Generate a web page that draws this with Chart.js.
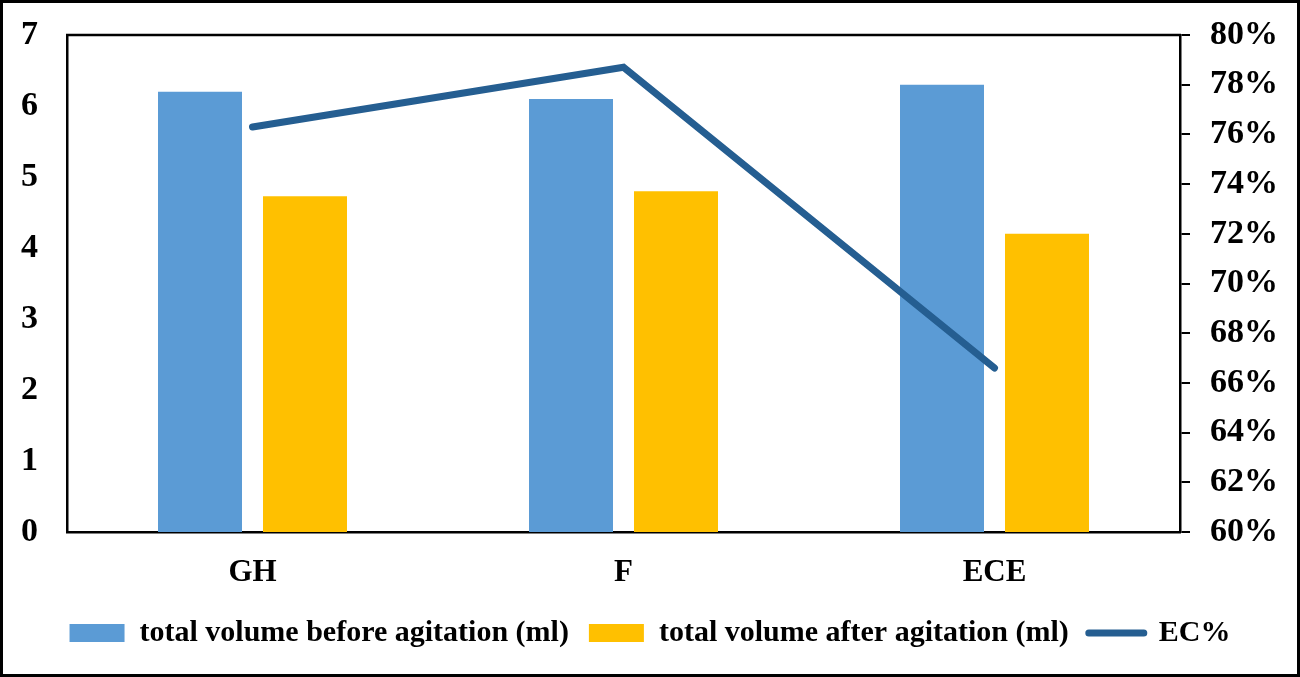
<!DOCTYPE html>
<html>
<head>
<meta charset="utf-8">
<title>Total volume before / after agitation and EC%</title>
<script src="https://cdn.jsdelivr.net/npm/chart.js@4.4.1/dist/chart.umd.min.js"></script>
<style>
    html, body { margin: 0; padding: 0; background: #fff; }
    #wrap { width: 1300px; height: 677px; position: relative; }
</style>
</head>
<body>
<div id="wrap"><canvas id="chart"></canvas></div>
<script>
// Chart data
const categories = ['GH', 'F', 'ECE'];
const volumeBefore = [6.2, 6.1, 6.3];
const volumeAfter = [4.73, 4.8, 4.2];
const ecPercent = [76.3, 78.7, 66.6];

const seriesNames = [
    'total volume before agitation (ml)',
    'total volume after agitation (ml)',
    'EC%'
];

// Axis ranges (left: ml, right: %)
const leftMin = 0, leftMax = 7, leftStep = 1;
const rightMin = 60, rightMax = 80, rightStep = 2;

const blue = '#5B9BD5';
const orange = '#FFC000';
const lineBlue = '#255E91';
const fontFamily = '"Liberation Serif", "Times New Roman", serif';

// top edge of the plot box and the outer frame
const framePlugin = {
    id: 'frame',
    afterDraw(chart) {
        const ctx = chart.ctx;
        const area = chart.chartArea;
        ctx.save();
        ctx.strokeStyle = '#000';
        ctx.lineWidth = 2.5;
        ctx.beginPath();
        ctx.moveTo(area.left - 1, area.top);
        ctx.lineTo(area.right + 1, area.top);
        ctx.stroke();
        ctx.lineWidth = 3;
        ctx.strokeRect(1.5, 1.5, chart.width - 3, chart.height - 3);
        ctx.restore();
    }
};

// fixed axis sizes so the plot box lands where the original has it
function fitVertical(width) {
    return function(scale) {
        scale.width = width;
        scale.paddingTop = 0;
        scale.paddingBottom = 0;
    };
}

const ctx = document.getElementById('chart').getContext('2d');
const chart = new Chart(ctx, {
    type: 'bar',
    data: {
        labels: categories,
        datasets: [
            {
                label: seriesNames[0],
                data: volumeBefore,
                backgroundColor: blue,
                yAxisID: 'y',
                order: 1,
                categoryPercentage: 0.566,
                barPercentage: 0.8
            },
            {
                label: seriesNames[1],
                data: volumeAfter,
                backgroundColor: orange,
                yAxisID: 'y',
                order: 1,
                categoryPercentage: 0.566,
                barPercentage: 0.8
            },
            {
                type: 'line',
                label: seriesNames[2],
                data: ecPercent,
                borderColor: lineBlue,
                backgroundColor: lineBlue,
                borderWidth: 7,
                borderCapStyle: 'round',
                pointRadius: 0,
                tension: 0,
                yAxisID: 'y2',
                order: 0
            }
        ]
    },
    options: {
        responsive: true,
        maintainAspectRatio: false,
        animation: false,
        devicePixelRatio: 1,
        layout: {
            padding: { top: 35, bottom: 19, left: 0, right: 0 }
        },
        plugins: {
            tooltip: { enabled: false },
            legend: {
                position: 'bottom',
                labels: {
                    color: '#000',
                    font: { family: fontFamily, size: 30, weight: 'bold' },
                    usePointStyle: true,
                    pointStyleWidth: 55,
                    boxHeight: 18,
                    padding: 20,
                    sort: (a, b) => a.datasetIndex - b.datasetIndex,
                    generateLabels(chart) {
                        const items = Chart.defaults.plugins.legend.labels.generateLabels(chart);
                        items.forEach(item => {
                            if (item.datasetIndex === 2) {
                                item.pointStyle = 'line';
                                item.strokeStyle = lineBlue;
                                item.lineWidth = 7;
                                item.lineCap = 'round';
                            } else {
                                item.pointStyle = 'rect';
                                item.lineWidth = 0;
                            }
                        });
                        return items;
                    }
                }
            }
        },
        scales: {
            x: {
                grid: { display: false },
                border: { display: true, color: '#000', width: 2.5 },
                ticks: {
                    color: '#000',
                    padding: 14,
                    font: { family: fontFamily, size: 31, weight: 'bold' }
                },
                afterFit(scale) { scale.height = 66; }
            },
            y: {
                position: 'left',
                min: leftMin,
                max: leftMax,
                grid: { display: false },
                border: { display: true, color: '#000', width: 2.5 },
                ticks: {
                    stepSize: leftStep,
                    color: '#000',
                    padding: 21,
                    font: { family: fontFamily, size: 34, weight: 'bold' }
                },
                afterFit: fitVertical(67)
            },
            y2: {
                position: 'right',
                min: rightMin,
                max: rightMax,
                grid: {
                    display: true,
                    drawOnChartArea: false,
                    drawTicks: true,
                    tickLength: 10,
                    color: '#000',
                    lineWidth: 2
                },
                border: { display: true, color: '#000', width: 2.5 },
                ticks: {
                    stepSize: rightStep,
                    color: '#000',
                    padding: 20,
                    font: { family: fontFamily, size: 34, weight: 'bold' },
                    callback: value => value + '%'
                },
                afterFit: fitVertical(120)
            }
        }
    },
    plugins: [framePlugin]
});
</script>
</body>
</html>
